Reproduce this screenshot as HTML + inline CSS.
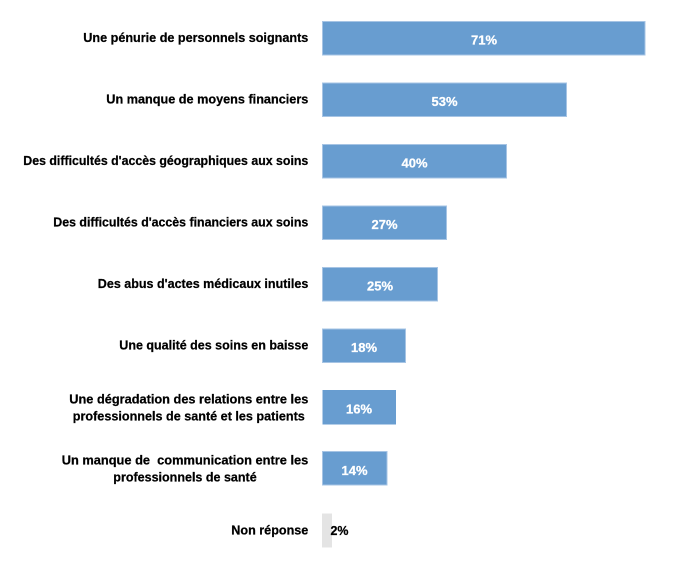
<!DOCTYPE html>
<html>
<head>
<meta charset="utf-8">
<style>
  html,body{margin:0;padding:0;background:#fff;}
  svg{display:block;}
  .lab{font-family:"Liberation Sans",Arial,sans-serif;font-weight:bold;font-size:13px;fill:#000;stroke:#000;stroke-width:0.25;}
  .val{font-family:"Liberation Sans",Arial,sans-serif;font-weight:bold;font-size:13px;fill:#fff;stroke:#fff;stroke-width:0.25;text-anchor:middle;}
  .bar{fill:#689dd0;stroke:#a6c4e4;stroke-width:1;}
</style>
</head>
<body>
<svg width="675" height="566" viewBox="0 0 675 566" xmlns="http://www.w3.org/2000/svg">
  <!-- Bars -->
  <rect class="bar" x="322.5" y="21.5" width="322.5" height="33.5"/>
  <rect class="bar" x="322.5" y="83" width="244" height="33.5"/>
  <rect class="bar" x="322.5" y="144.5" width="184" height="33.5"/>
  <rect class="bar" x="322.5" y="206" width="124" height="33.5"/>
  <rect class="bar" x="322.5" y="267.5" width="115" height="33.5"/>
  <rect class="bar" x="322.5" y="329" width="83" height="33.5"/>
  <rect x="322.5" y="390" width="73.5" height="34.5" fill="#689dd0"/>
  <rect class="bar" x="322.5" y="451.5" width="64.5" height="33.5"/>
  <rect x="322" y="513.5" width="10" height="34" fill="#e4e4e4"/>

  <!-- Values -->
  <text class="val" x="484" y="44.5" textLength="26" lengthAdjust="spacingAndGlyphs">71%</text>
  <text class="val" x="444.5" y="106" textLength="26" lengthAdjust="spacingAndGlyphs">53%</text>
  <text class="val" x="414.5" y="167.5" textLength="26" lengthAdjust="spacingAndGlyphs">40%</text>
  <text class="val" x="384.5" y="229" textLength="26" lengthAdjust="spacingAndGlyphs">27%</text>
  <text class="val" x="380" y="290.5" textLength="26" lengthAdjust="spacingAndGlyphs">25%</text>
  <text class="val" x="364" y="352" textLength="26" lengthAdjust="spacingAndGlyphs">18%</text>
  <text class="val" x="359" y="413.5" textLength="26" lengthAdjust="spacingAndGlyphs">16%</text>
  <text class="val" x="354.5" y="475" textLength="26" lengthAdjust="spacingAndGlyphs">14%</text>
  <text class="lab" x="330.5" y="535" textLength="18" lengthAdjust="spacingAndGlyphs">2%</text>

  <!-- Category labels -->
  <text class="lab" x="308.3" y="41.8" text-anchor="end" textLength="225" lengthAdjust="spacingAndGlyphs">Une pénurie de personnels soignants</text>
  <text class="lab" x="308.3" y="103.3" text-anchor="end" textLength="202" lengthAdjust="spacingAndGlyphs">Un manque de moyens financiers</text>
  <text class="lab" x="308.3" y="164.8" text-anchor="end" textLength="285" lengthAdjust="spacingAndGlyphs">Des difficultés d'accès géographiques aux soins</text>
  <text class="lab" x="308.3" y="226.5" text-anchor="end" textLength="255" lengthAdjust="spacingAndGlyphs">Des difficultés d'accès financiers aux soins</text>
  <text class="lab" x="308.3" y="288" text-anchor="end" textLength="210.5" lengthAdjust="spacingAndGlyphs">Des abus d'actes médicaux inutiles</text>
  <text class="lab" x="308.3" y="349.5" text-anchor="end" textLength="189" lengthAdjust="spacingAndGlyphs">Une qualité des soins en baisse</text>

  <text class="lab" x="188.8" y="403.3" text-anchor="middle" textLength="239" lengthAdjust="spacingAndGlyphs">Une dégradation des relations entre les</text>
  <text class="lab" x="188.8" y="420.7" text-anchor="middle" textLength="232" lengthAdjust="spacingAndGlyphs">professionnels de santé et les patients</text>

  <text class="lab" x="185" y="464.3" text-anchor="middle" textLength="246.6" lengthAdjust="spacingAndGlyphs">Un manque de&#160; communication entre les</text>
  <text class="lab" x="185" y="481.5" text-anchor="middle" textLength="143.4" lengthAdjust="spacingAndGlyphs">professionnels de santé</text>

  <text class="lab" x="308.3" y="534.3" text-anchor="end" textLength="77" lengthAdjust="spacingAndGlyphs">Non réponse</text>
</svg>
</body>
</html>
